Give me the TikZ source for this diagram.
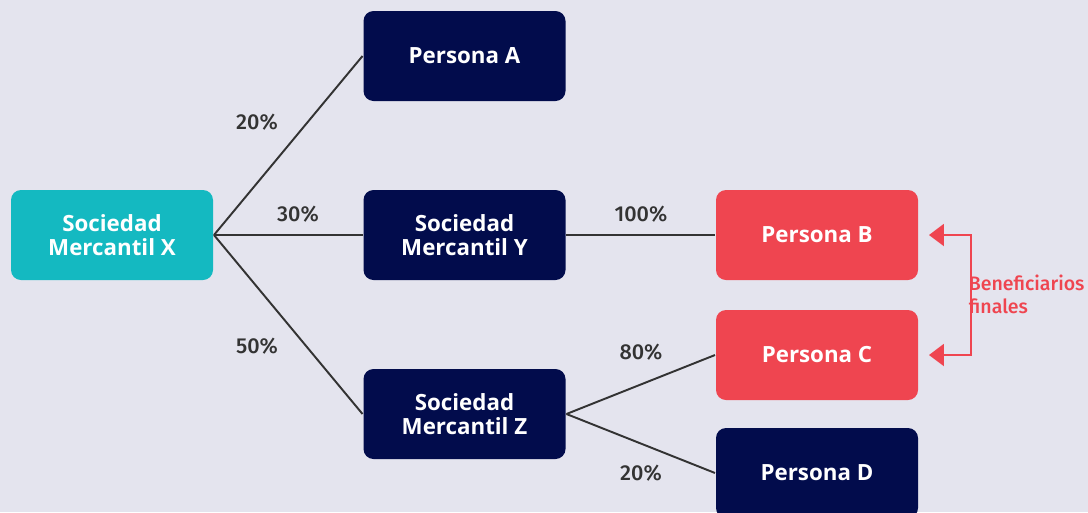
\documentclass[tikz,border=0pt]{standalone}
\usepackage{fontspec}
\setmainfont{Fira Sans}
\newfontfamily\pctfont{Fira Sans}[UprightFont=* Medium]
\newfontfamily\boxfont{Open Sans}
\usetikzlibrary{%
  arrows.meta,%
  positioning,%
  calc%
}
\definecolor{bg}{HTML}{E4E4EE}
\definecolor{navy}{HTML}{020C4C}
\definecolor{teal}{HTML}{14B9C1}
\definecolor{coral}{HTML}{EF4550}
\definecolor{linegray}{HTML}{333333}

\begin{document}
\begin{tikzpicture}[
  font=\fontsize{12.3}{13.6}\selectfont,
  line width=1.1pt,
  box/.style={rectangle, rounded corners=0.2cm, minimum width=4.04cm, minimum height=1.8cm, text=white, font=\boxfont\fontsize{12.7}{13.6}\selectfont\bfseries, align=center, inner sep=0pt},
  company/.style={box, fill=navy},
  target/.style={box, fill=teal},
  owner/.style={box, fill=coral},
  share/.style={text=linegray, font=\fontsize{12.3}{13.6}\selectfont\pctfont},
  link/.style={draw=linegray}
]
\fill[bg] (0,0) rectangle (21.76,-10.24);
\useasboundingbox (0,0) rectangle (21.76,-10.24);

\node[target] (X) at (2.24,-4.70) {Sociedad\\Mercantil X};
\node[company] (A) at (9.29,-1.12) {Persona A};
\node[company] (Y) at (9.29,-4.70) {Sociedad\\Mercantil Y};
\node[company] (Z) at (9.29,-8.28) {Sociedad\\Mercantil Z};
\node[owner] (B) at (16.34,-4.70) {Persona B};
\node[owner] (C) at (16.34,-7.10) {Persona C};
\node[company] (D) at (16.34,-9.46) {Persona D};

\draw[link] (X.east) -- (A.west);
\draw[link] (X.east) -- (Y.west);
\draw[link] (X.east) -- (Z.west);
\draw[link] (Y.east) -- (B.west);
\draw[link] (Z.east) -- (C.west);
\draw[link] (Z.east) -- (D.west);

\node[share] (pA) at (5.14,-2.44) {20\%};
\node[share] (pY) at (5.96,-4.28) {30\%};
\node[share] (pZ) at (5.14,-6.92) {50\%};
\node[share] (pB) at (12.82,-4.28) {100\%};
\node[share] (pC) at (12.82,-7.04) {80\%};
\node[share] (pD) at (12.82,-9.46) {20\%};

% Beneficiarios finales
\coordinate (tipB) at ($(B.east)+(0.2,0)$);
\coordinate (tipC) at ($(C.east)+(0.2,0)$);
\draw[coral, line width=1.2pt, {Triangle[length=0.3cm,width=0.44cm]}-{Triangle[length=0.3cm,width=0.44cm]}]
  (tipB) -- ++(0.84,0) |- (tipC);
\node[text=coral, align=left, anchor=west, inner sep=0pt, font=\fontsize{11.1}{13.2}\selectfont\pctfont] (ben) at (19.36,-5.88) {Beneficiarios\\finales};
\end{tikzpicture}
\end{document}
